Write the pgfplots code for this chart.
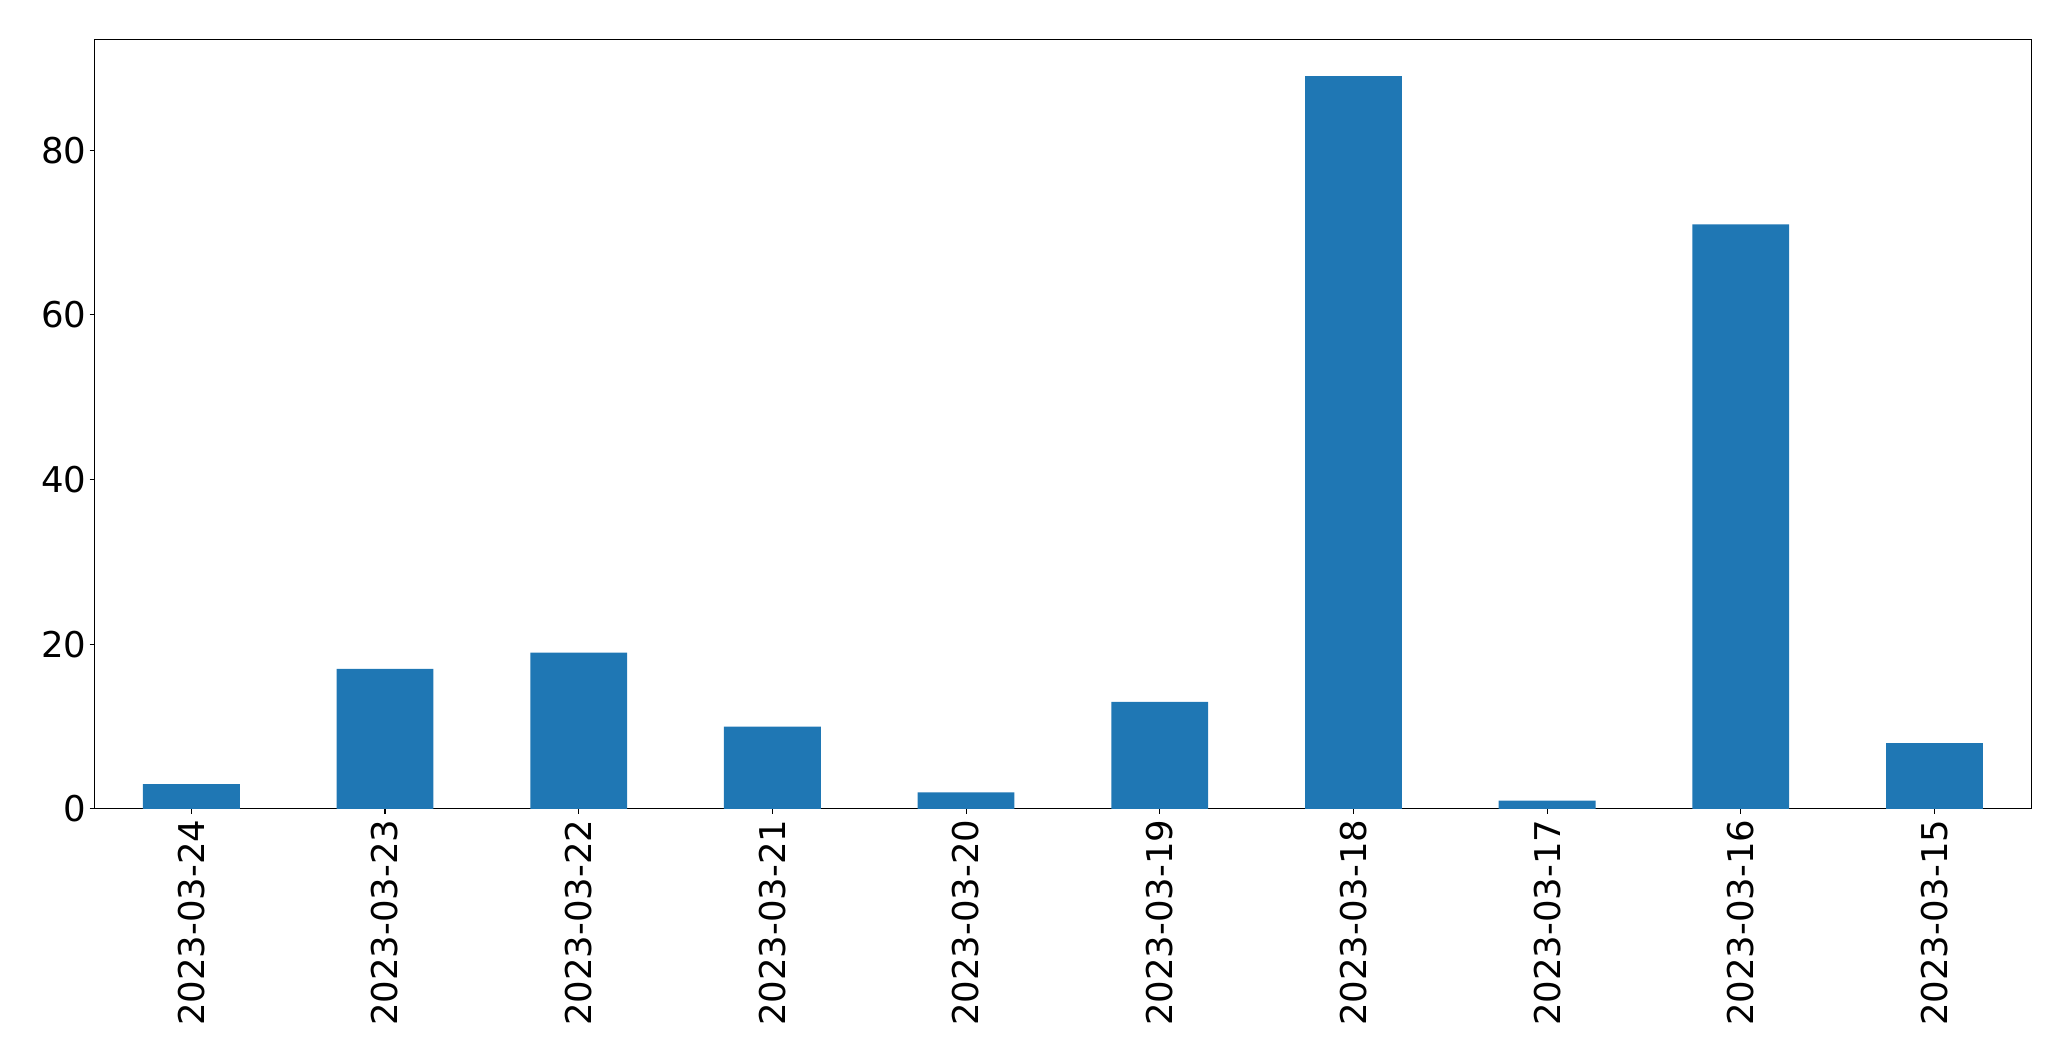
\documentclass[border=0pt]{standalone}
\usepackage{fontspec}
\setmainfont{DejaVu Sans}
\usepackage{pgfplots}
\pgfplotsset{compat=1.18}
\definecolor{mplblue}{HTML}{1F77B4}
\begin{document}
\begin{tikzpicture}
\begin{axis}[
  scale only axis,
  width=1937pt, height=769.5pt,
  xmin=-0.5, xmax=9.5, ymin=0, ymax=93.45,
  axis line style={line width=1.1pt},
  every tick/.style={black, line width=1.1pt},
  tick align=outside, major tick length=4.9pt,
  xtick pos=bottom, ytick pos=left,
  xtick={0,1,2,3,4,5,6,7,8,9},
  xticklabels={2023-03-24,2023-03-23,2023-03-22,2023-03-21,2023-03-20,2023-03-19,2023-03-18,2023-03-17,2023-03-16,2023-03-15},
  ytick={0,20,40,60,80},
  /pgf/number format/assume math mode=true,
  ticklabel style={font=\fontsize{35.5}{42}\selectfont},
  xticklabel style={rotate=90, anchor=east, inner sep=5.5pt},
  yticklabel style={inner sep=3pt},
]
\addplot[ybar, bar width=0.5, fill=mplblue, draw=none] coordinates {
  (0,3) (1,17) (2,19) (3,10) (4,2) (5,13) (6,89) (7,1) (8,71) (9,8)
};
\coordinate (ll) at (rel axis cs:0,0);
\coordinate (ur) at (rel axis cs:1,1);
\end{axis}
\path ([shift={(-94.5pt,-252pt)}]ll) rectangle ([shift={(39.7pt,39.5pt)}]ur);
\end{tikzpicture}
\end{document}
